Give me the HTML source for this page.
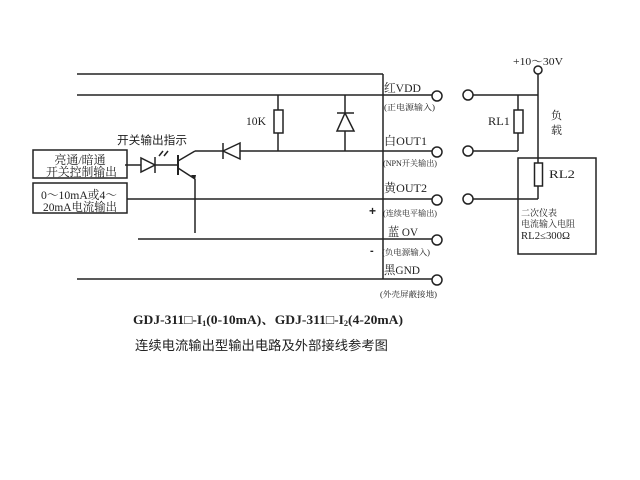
<!DOCTYPE html>
<html><head><meta charset="utf-8"><style>
html,body{margin:0;padding:0;background:#fff;}
svg{display:block;}
text{font-family:"Liberation Serif","Noto Serif CJK SC",serif;fill:#222;}
.s{font-family:"Liberation Sans","Noto Sans CJK SC",sans-serif;}
</style></head><body>
<svg width="640" height="480" viewBox="0 0 640 480" xmlns="http://www.w3.org/2000/svg">
<g stroke="#222" stroke-width="1.5" fill="none">
<!-- main horizontal lines -->
<line x1="77" y1="74" x2="383" y2="74"/>
<line x1="383" y1="74" x2="383" y2="279"/>
<line x1="77" y1="95" x2="432" y2="95"/>
<line x1="195" y1="151" x2="432" y2="151"/>
<line x1="127" y1="199" x2="432" y2="199"/>
<line x1="138" y1="239" x2="432" y2="239"/>
<line x1="77" y1="279" x2="432" y2="279"/>
<!-- terminals left -->
<circle cx="437" cy="96" r="5" fill="#fff"/>
<circle cx="437" cy="152" r="5" fill="#fff"/>
<circle cx="437" cy="200" r="5" fill="#fff"/>
<circle cx="437" cy="240" r="5" fill="#fff"/>
<circle cx="437" cy="280" r="5" fill="#fff"/>
<!-- 10K resistor -->
<line x1="278" y1="95" x2="278" y2="151"/>
<rect x="274" y="110" width="9" height="23" fill="#fff"/>
<!-- diode up -->
<line x1="345" y1="95" x2="345" y2="151"/>
<line x1="337" y1="113" x2="354" y2="113"/>
<polygon points="345,113 337,131 354,131" fill="#fff"/>
<!-- diode left on OUT1 -->
<line x1="223" y1="143" x2="223" y2="159"/>
<polygon points="223,151 240,143 240,159" fill="#fff"/>
<!-- boxes -->
<rect x="33" y="150" width="94" height="28"/>
<rect x="33" y="183" width="94" height="30"/>
<!-- base line with LED -->
<line x1="125" y1="165" x2="178" y2="165"/>
<polygon points="141,158 141,172 155,165" fill="#fff"/>
<line x1="155" y1="157" x2="155" y2="173"/>
<line x1="159" y1="156" x2="163" y2="151"/>
<line x1="164" y1="156" x2="168" y2="151"/>
<!-- transistor -->
<line x1="178" y1="155" x2="178" y2="175" stroke-width="2"/>
<line x1="178" y1="161" x2="195" y2="151"/>
<line x1="178" y1="168" x2="195" y2="179"/>
<line x1="195" y1="179" x2="195" y2="233"/>
<!-- right side -->
<circle cx="538" cy="70" r="4" fill="#fff"/>
<line x1="538" y1="74" x2="538" y2="163"/>
<line x1="473" y1="95" x2="538" y2="95"/>
<circle cx="468" cy="95" r="5" fill="#fff"/>
<line x1="518" y1="95" x2="518" y2="151"/>
<rect x="514" y="110" width="9" height="23" fill="#fff"/>
<line x1="473" y1="151" x2="518" y2="151"/>
<circle cx="468" cy="151" r="5" fill="#fff"/>
<rect x="518" y="158" width="78" height="96"/>
<rect x="534.5" y="163" width="8" height="23" fill="#fff"/>
<line x1="538" y1="186" x2="538" y2="199"/>
<line x1="473" y1="199" x2="538" y2="199"/>
<circle cx="468" cy="199" r="5" fill="#fff"/>
</g>
<polygon points="195,180 191,175 196,175" fill="#222"/>

<!-- labels -->
<text x="117" y="144" font-size="11.5" textLength="70" lengthAdjust="spacingAndGlyphs" class="s">开关输出指示</text>
<text x="80" y="164" font-size="12" text-anchor="middle">亮通/暗通</text>
<text x="46" y="176" font-size="12" textLength="71" lengthAdjust="spacingAndGlyphs">开关控制输出</text>
<text x="41" y="199" font-size="12" textLength="76" lengthAdjust="spacingAndGlyphs">0～10mA或4～</text>
<text x="43" y="211" font-size="12" textLength="74" lengthAdjust="spacingAndGlyphs">20mA电流输出</text>
<text x="246" y="125" font-size="12" textLength="20" lengthAdjust="spacingAndGlyphs">10K</text>

<text x="384" y="92" font-size="12" textLength="37" lengthAdjust="spacingAndGlyphs">红VDD</text>
<text x="384" y="110" font-size="8" textLength="51" lengthAdjust="spacingAndGlyphs">(正电源输入)</text>
<text x="384" y="145" font-size="12" textLength="43" lengthAdjust="spacingAndGlyphs">白OUT1</text>
<text x="383" y="166" font-size="8" textLength="54" lengthAdjust="spacingAndGlyphs">(NPN开关输出)</text>
<text x="384" y="192" font-size="12" textLength="43" lengthAdjust="spacingAndGlyphs">黄OUT2</text>
<text x="383" y="216" font-size="8" textLength="54" lengthAdjust="spacingAndGlyphs">(连续电平输出)</text>
<text x="369" y="215" font-size="12" font-weight="bold" class="s">+</text>
<text x="388" y="236" font-size="12" textLength="30" lengthAdjust="spacingAndGlyphs">蓝 OV</text>
<text x="382" y="255" font-size="8" textLength="48" lengthAdjust="spacingAndGlyphs">(负电源输入)</text>
<text x="370" y="254" font-size="11" font-weight="bold" class="s">-</text>
<text x="384" y="274" font-size="12" textLength="36" lengthAdjust="spacingAndGlyphs">黑GND</text>
<text x="380" y="297" font-size="8" textLength="57" lengthAdjust="spacingAndGlyphs">(外壳屏蔽接地)</text>

<text x="513" y="65" font-size="11" textLength="50" lengthAdjust="spacingAndGlyphs">+10～30V</text>
<text x="488" y="125" font-size="12" textLength="22" lengthAdjust="spacingAndGlyphs">RL1</text>
<text x="551" y="119" font-size="11">负</text>
<text x="551" y="134" font-size="11">载</text>
<text x="549" y="178" font-size="12" textLength="26" lengthAdjust="spacingAndGlyphs">RL2</text>
<text x="521" y="216" font-size="9" textLength="36" lengthAdjust="spacingAndGlyphs">二次仪表</text>
<text x="521" y="227" font-size="9" textLength="54" lengthAdjust="spacingAndGlyphs">电流输入电阻</text>
<text x="521" y="239" font-size="10" textLength="49" lengthAdjust="spacingAndGlyphs">RL2≤300Ω</text>

<text x="133" y="324" font-size="13" font-weight="bold" textLength="270" lengthAdjust="spacingAndGlyphs">GDJ-311□-I<tspan font-size="8" dy="2">1</tspan><tspan dy="-2">(0-10mA)、GDJ-311□-I</tspan><tspan font-size="8" dy="2">2</tspan><tspan dy="-2">(4-20mA)</tspan></text>
<text x="135" y="350" font-size="13" class="s" textLength="253" lengthAdjust="spacingAndGlyphs">连续电流输出型输出电路及外部接线参考图</text>
</svg>
</body></html>
